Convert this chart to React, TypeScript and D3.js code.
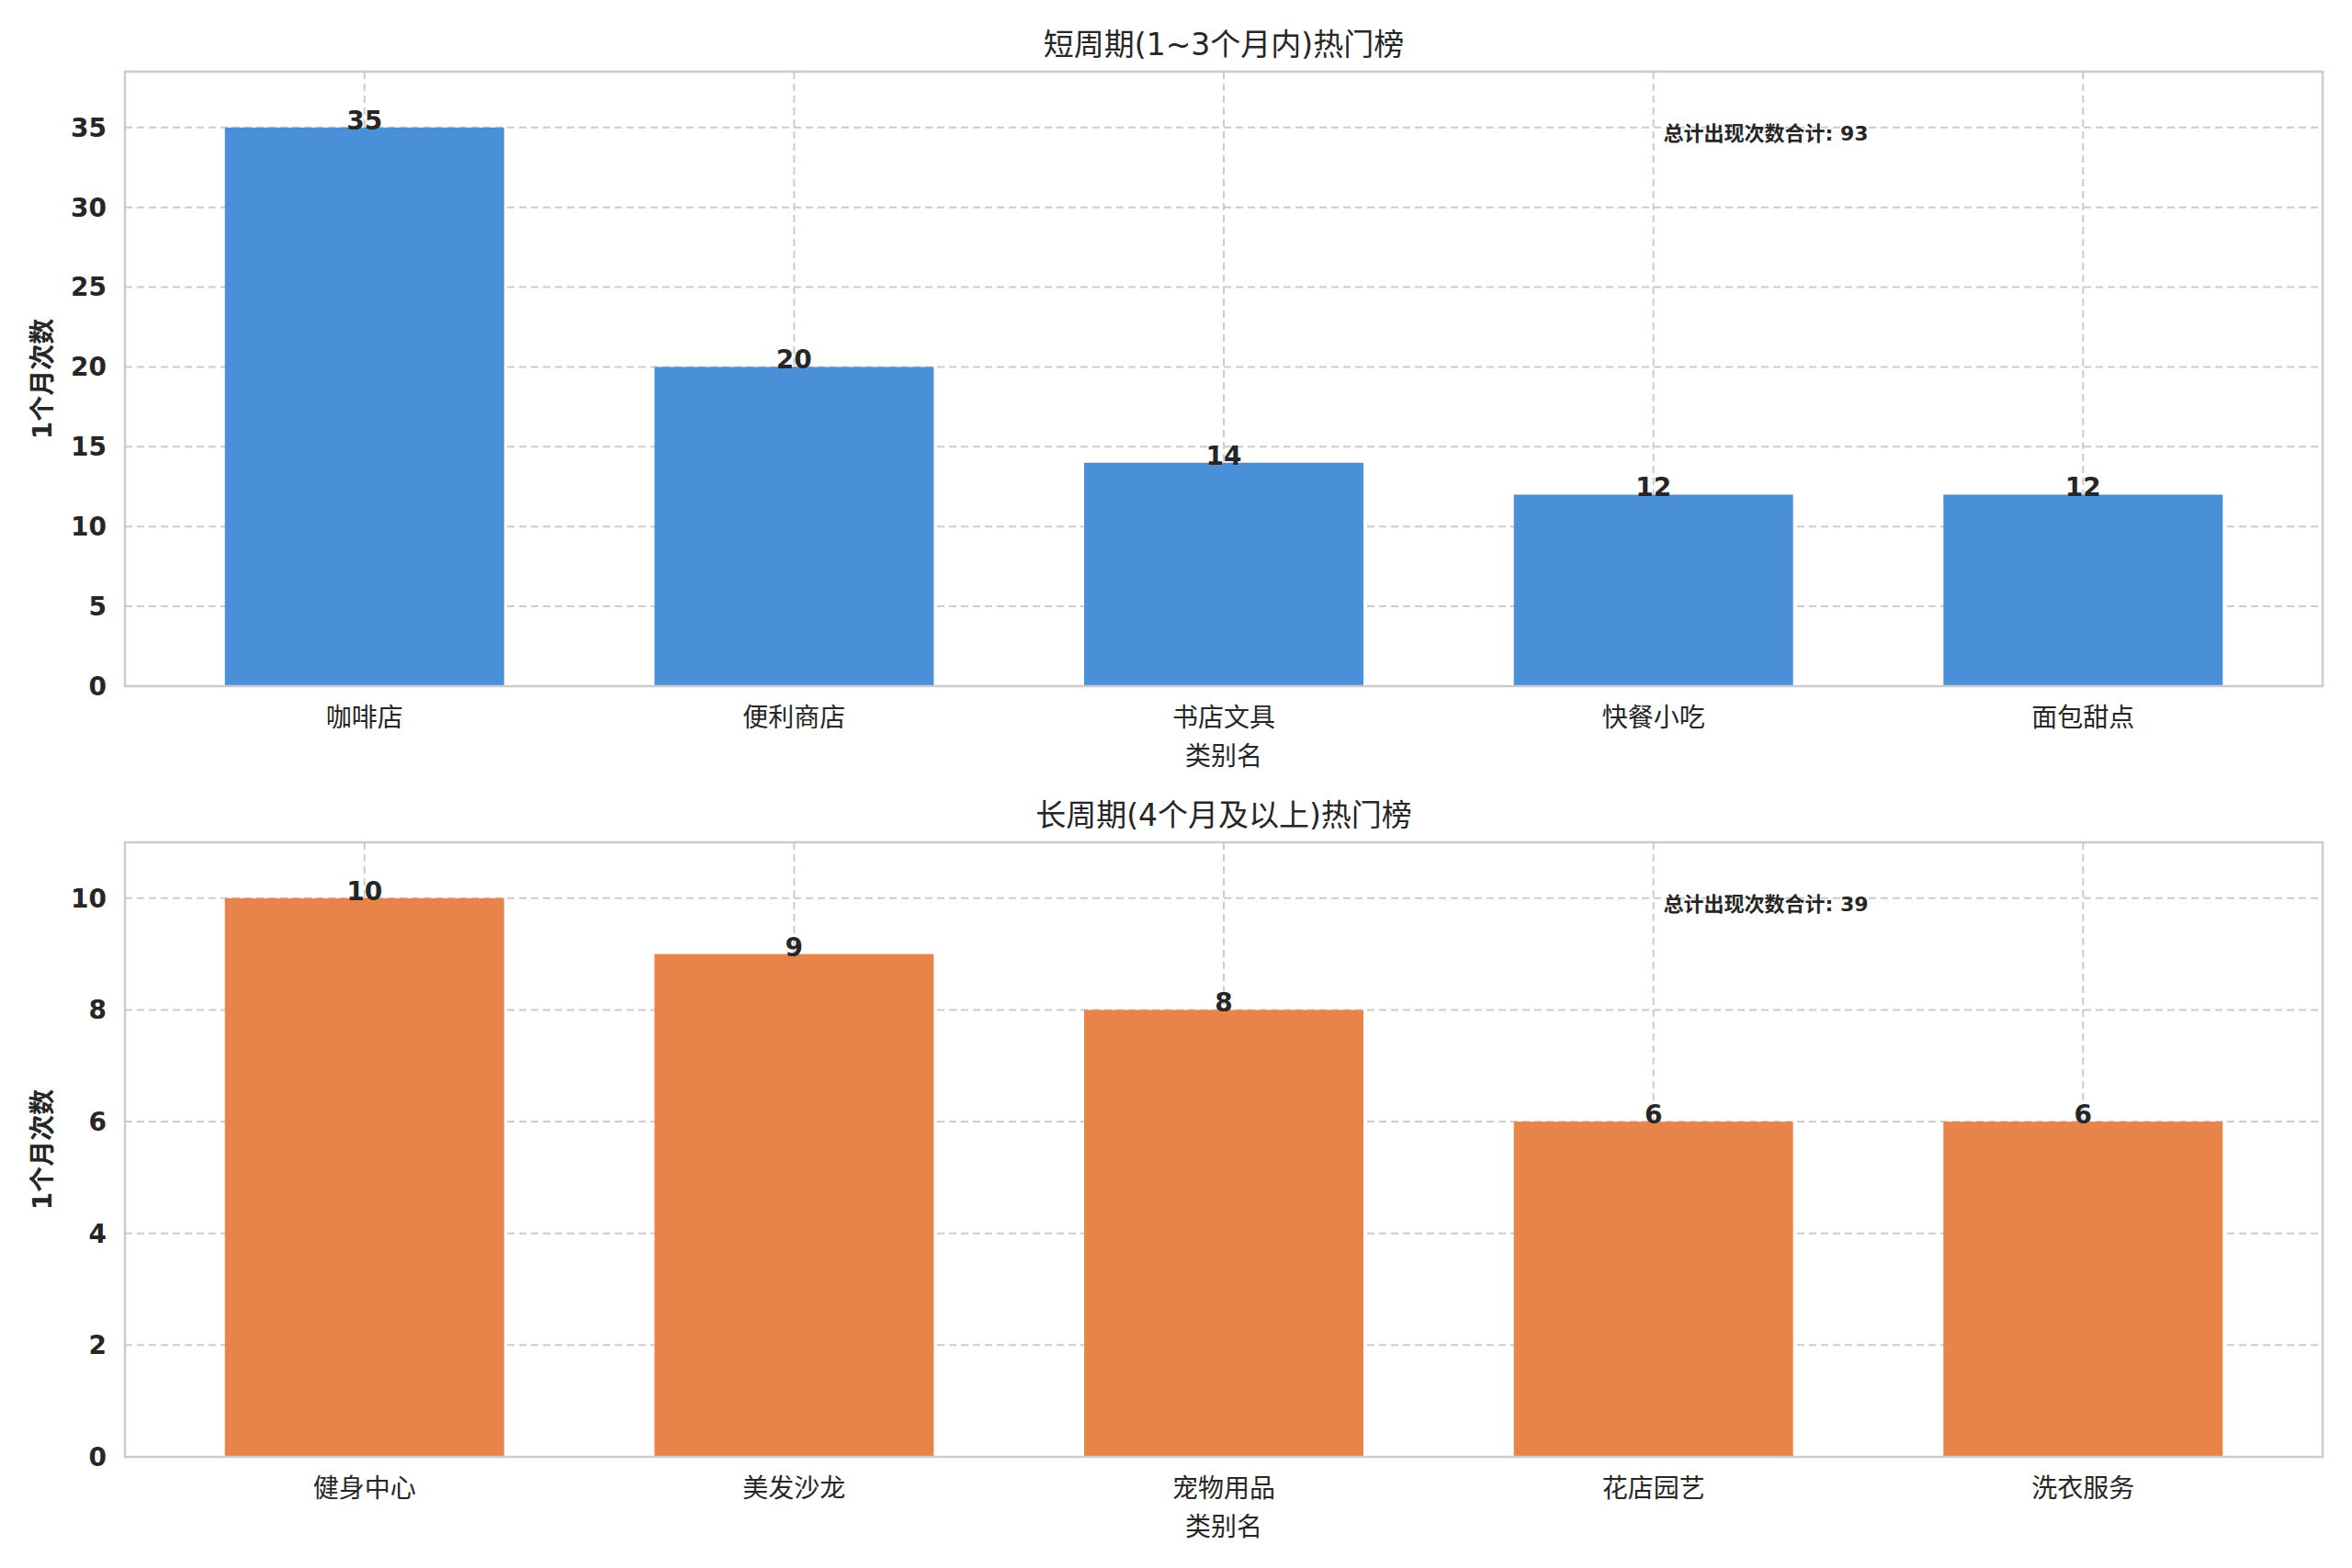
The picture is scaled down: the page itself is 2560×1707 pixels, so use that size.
import * as d3 from 'd3';

const W = 2560;
const H = 1707;

const topTitle = '短周期(1~3个月内)热门榜';
const bottomTitle = '长周期(4个月及以上)热门榜';
const yLabel = '1个月次数';
const xLabel = '类别名';
const noteLabel = '总计出现次数合计';

const topCategories = ['咖啡店', '便利商店', '书店文具', '快餐小吃', '面包甜点'];
const topValues = [35, 20, 14, 12, 12];
const topTotal = 93;

const bottomCategories = ['健身中心', '美发沙龙', '宠物用品', '花店园艺', '洗衣服务'];
const bottomValues = [10, 9, 8, 6, 6];
const bottomTotal = 39;

const FONT = '"DejaVu Sans", "Noto Sans CJK SC", sans-serif';
const TEXT = '#262626';

interface PanelProps {
  top: number;
  title: string;
  categories: string[];
  values: number[];
  total: number;
  ticks: number[];
  color: string;
}

function Panel({ top, title, categories, values, total, ticks, color }: PanelProps) {
  const left = 136;
  const right = 2528;
  const h = 669;
  const maxV = d3.max(values)! * 1.1;
  const barW = 0.65;
  const n = categories.length;
  const pad = (n - 1 + barW) * 0.05;
  const x = d3.scaleLinear().domain([-barW / 2 - pad, n - 1 + barW / 2 + pad]).range([left, right]);
  const y = d3.scaleLinear().domain([0, maxV]).range([top + h, top]);
  return (
    <g fontFamily={FONT} fill={TEXT}>
      <text x={(left + right) / 2} y={top - 18} textAnchor="middle" fontSize={33}>{title}</text>
      {categories.map((_, i) => (
        <line key={'gx' + i} x1={x(i)} x2={x(i)} y1={top} y2={top + h} stroke="#cccccc" strokeWidth={2} strokeDasharray="8,5" />
      ))}
      {ticks.map(t => (
        <line key={'gy' + t} x1={left} x2={right} y1={y(t)} y2={y(t)} stroke="#cccccc" strokeWidth={2} strokeDasharray="8,5" />
      ))}
      {values.map((v, i) => (
        <rect key={'b' + i} x={x(i - barW / 2)} width={x(barW) - x(0)} y={y(v)} height={y(0) - y(v)} fill={color} />
      ))}
      {values.map((v, i) => (
        <text key={'v' + i} x={x(i)} y={y(v) + 2} textAnchor="middle" fontSize={28} fontWeight="bold">{v}</text>
      ))}
      <rect x={left} y={top} width={right - left} height={h} fill="none" stroke="#cccccc" strokeWidth={2.5} />
      {ticks.map(t => (
        <text key={'ty' + t} x={left - 20} y={y(t)} dy="0.35em" textAnchor="end" fontSize={28} fontWeight="bold">{t}</text>
      ))}
      {categories.map((c, i) => (
        <text key={'tx' + i} x={x(i)} y={top + h + 44} textAnchor="middle" fontSize={28}>{c}</text>
      ))}
      <text x={(left + right) / 2} y={top + h + 86} textAnchor="middle" fontSize={28}>{xLabel}</text>
      <text transform={`translate(${56},${top + h / 2}) rotate(-90)`} textAnchor="middle" fontSize={28} fontWeight="bold">{yLabel}</text>
      <text x={left + (right - left) * 0.7} y={top + h * 0.1} dy="0.35em" fontSize={22} fontWeight="bold">{noteLabel}: {total}</text>
    </g>
  );
}

export default function App() {
  return (
    <svg width={W} height={H} style={{ position: 'absolute', left: 0, top: 0, background: '#fff' }}>
      <rect width={W} height={H} fill="#fff" />
      <Panel top={78} title={topTitle} categories={topCategories} values={topValues} total={topTotal}
        ticks={[0, 5, 10, 15, 20, 25, 30, 35]} color="#4a90d9" />
      <Panel top={917} title={bottomTitle} categories={bottomCategories} values={bottomValues} total={bottomTotal}
        ticks={[0, 2, 4, 6, 8, 10]} color="#e8844a" />
    </svg>
  );
}
